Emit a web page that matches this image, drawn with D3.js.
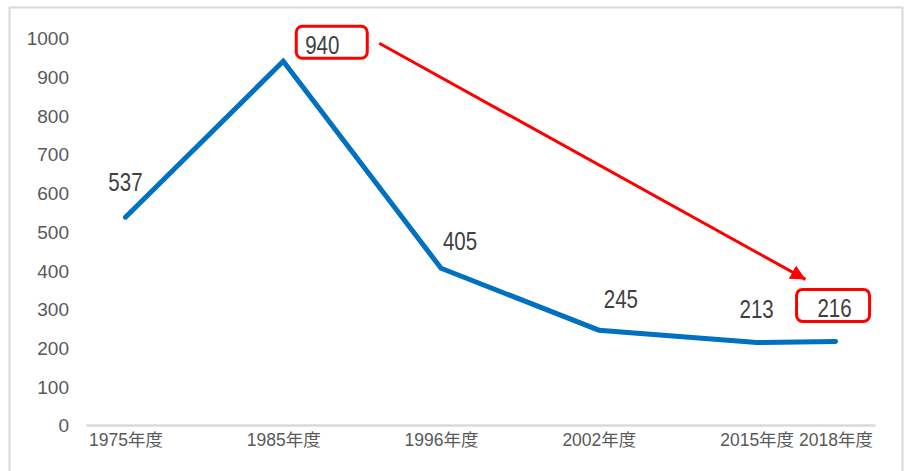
<!DOCTYPE html>
<html><head><meta charset="utf-8">
<script src="https://cdn.jsdelivr.net/npm/d3@7"></script>
<style>
html,body{margin:0;padding:0;background:#fff;}
svg{display:block;}
</style></head>
<body><svg id="chart" width="910" height="471"></svg>
<script>
const categories = ["1975年度","1985年度","1996年度","2002年度","2015年度","2018年度"];
const values = [537, 940, 405, 245, 213, 216];
const yTicks = [0,100,200,300,400,500,600,700,800,900,1000];
const highlighted = ["1985年度","2018年度"];

const svg = d3.select("#chart");

// outer chart border
svg.append("rect").attr("x",9.5).attr("y",7.5).attr("width",893).attr("height",480)
  .attr("fill","none").attr("stroke","#d9d9d9").attr("stroke-width",2);

// x: categories evenly spaced, last one at a half step (as in the source)
const slot = d3.scaleOrdinal().domain(categories).range([0,1,2,3,4,4.5]);
const x = d3.scaleLinear().domain([-0.25, 4.75]).range([86, 875]);
const y = d3.scaleLinear().domain([0, 1000]).range([425, 38]);
const X = c => x(slot(c));

const font = "'Liberation Sans', Arial, 'Noto Sans CJK JP', sans-serif";

// y tick labels
const yAxis = d3.axisLeft(y).tickValues(yTicks).tickFormat(d3.format("d")).tickSize(0).tickPadding(0);
const gy = svg.append("g").attr("transform","translate(69,0)").call(yAxis);
gy.select(".domain").remove();
gy.selectAll("text").attr("fill","#595959").attr("font-size",19)
  .attr("font-family",font).attr("dy","0.36em");

// x axis line and labels
const xAxis = d3.axisBottom(x).tickValues(categories.map(c=>slot(c)))
  .tickFormat((d,i)=>categories[i]).tickSize(0).tickPadding(0);
const gx = svg.append("g").attr("transform","translate(0,425)").call(xAxis);
gx.select(".domain").attr("stroke","#d9d9d9").attr("stroke-width",2.5);
gx.selectAll("text").attr("fill","#595959").attr("font-size",17.5)
  .attr("font-family",font).attr("dy",0).attr("y",21);

// line
const data = categories.map((c,i)=>({c, v:values[i]}));
svg.append("path").datum(data)
  .attr("d", d3.line().x(d=>X(d.c)).y(d=>y(d.v)))
  .attr("fill","none").attr("stroke","#0070C0").attr("stroke-width",5)
  .attr("stroke-linecap","round").attr("stroke-linejoin","miter");

// data labels (offsets relative to point), horizontally condensed
const labelOffset = {"1975年度":[0,-26],"1985年度":[39,-7],"1996年度":[19,-18],
  "2002年度":[22,-22],"2015年度":[0,-25],"2018年度":[-1,-24]};
svg.append("g").selectAll("text").data(data).join("text")
  .attr("transform",d=>`translate(${X(d.c)+labelOffset[d.c][0]},${y(d.v)+labelOffset[d.c][1]}) scale(0.82,1)`)
  .attr("text-anchor","middle").attr("fill","#404040")
  .attr("font-size",25).attr("font-family",font)
  .text(d=>d.v);

// highlight boxes
const boxSpec = {"1985年度":[-26,45],"2018年度":[-38,35]};
const boxes = {};
highlighted.forEach(c=>{
  const d = data.find(e=>e.c===c);
  const cx = X(c)+labelOffset[c][0], by = y(d.v)+labelOffset[c][1];
  const b = {x0:cx+boxSpec[c][0], x1:cx+boxSpec[c][1], y0:by-28, y1:by+4};
  boxes[c]=b;
  svg.append("rect").attr("x",b.x0).attr("y",b.y0).attr("width",b.x1-b.x0).attr("height",b.y1-b.y0)
    .attr("rx",6).attr("fill","none").attr("stroke","#ff0000").attr("stroke-width",3);
});

// arrow
svg.append("defs").append("marker").attr("id","ah").attr("viewBox","0 0 10 10")
  .attr("refX",10).attr("refY",5).attr("markerWidth",5).attr("markerHeight",5)
  .attr("markerUnits","strokeWidth").attr("orient","auto")
  .append("path").attr("d","M0,0 L10,5 L0,10 z").attr("fill","#ff0000");
const b1 = boxes["1985年度"], b2 = boxes["2018年度"];
svg.append("line").attr("x1",b1.x1+12).attr("y1",(b1.y0+b1.y1)/2+1)
  .attr("x2",b2.x0+9).attr("y2",b2.y0-10)
  .attr("stroke","#ff0000").attr("stroke-width",3).attr("marker-end","url(#ah)");
</script></body></html>
